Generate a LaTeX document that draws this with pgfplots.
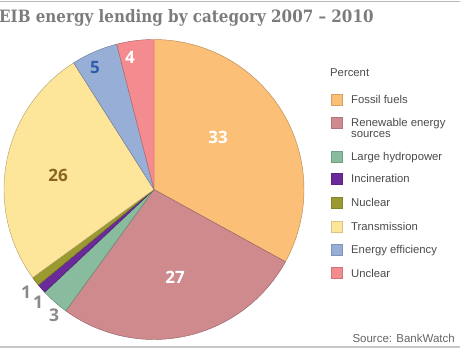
\documentclass[border=0pt]{standalone}
\usepackage{pgfplots}
\pgfplotsset{compat=1.18}
\usepackage{fontspec}
\setmainfont{Liberation Sans}
\newfontfamily\numfont{Open Sans}
\newfontfamily\titlefont{DejaVu Serif}[FakeStretch=0.89]
\definecolor{cFossil}{HTML}{FBBF77}
\definecolor{cRenew}{HTML}{CF8A8E}
\definecolor{cHydro}{HTML}{89BB9F}
\definecolor{cIncin}{HTML}{6A2A9A}
\definecolor{cNuclear}{HTML}{9A9A30}
\definecolor{cTrans}{HTML}{FDE59A}
\definecolor{cEE}{HTML}{97AED6}
\definecolor{cUnclear}{HTML}{F48B8F}
\definecolor{cTitle}{HTML}{7C7C7C}
\definecolor{cLeg}{HTML}{4A4A4A}
\definecolor{cSmall}{HTML}{8A8A8A}
\definecolor{c26}{HTML}{8A6520}
\definecolor{c5}{HTML}{2F5FA8}

\def\startangle{90}
\newcommand\slice[2]{%
  \pgfmathsetmacro\endangle{\startangle-3.6*#1}%
  \edef\doslice{\noexpand\addplot[fill=#2, draw=#2!72!black, line width=0.45pt, domain=\endangle:\startangle, samples=60] ({154+150*cos(x)},{161.5+150*sin(x)}) -- (axis cs:154,161.5) -- cycle;}%
  \doslice
  \xdef\startangle{\endangle}}

\newcommand\legentry[3]{% y-pixel, colour, text
  \fill[#2, draw=#2!85!black, line width=0.3pt] (axis cs:331,{351-#1-5.5}) rectangle (axis cs:342,{351-#1+5.5});
  \node[anchor=base west, inner sep=0pt, text=cLeg, font=\fontsize{11.3}{11.3}\selectfont] at (axis cs:351,{351-#1-4}) {#3};}

\begin{document}
\begin{tikzpicture}[x=1pt,y=1pt]
\path[use as bounding box] (0,0) rectangle (460,351);
\begin{axis}[at={(0,0)}, anchor=south west, scale only axis, width=460pt, height=351pt,
  xmin=0, xmax=460, ymin=0, ymax=351, hide axis, clip=false]
\slice{33}{cFossil}
\slice{27}{cRenew}
\slice{3}{cHydro}
\slice{1}{cIncin}
\slice{1}{cNuclear}
\slice{26}{cTrans}
\slice{5}{cEE}
\slice{4}{cUnclear}

\draw[black!28, line width=1pt] (axis cs:0,349) -- (axis cs:460,349);
\draw[black!22, line width=2pt] (axis cs:0,4) -- (axis cs:460,4);

\node[anchor=base west, inner sep=0pt, text=cTitle, font=\titlefont\bfseries\fontsize{17}{17}\selectfont] at (axis cs:-1,328) {EIB energy lending by category 2007 – 2010};

\node[text=white, font=\numfont\bfseries\fontsize{17}{17}\selectfont] at (axis cs:218,214) {33};
\node[text=white, font=\numfont\bfseries\fontsize{17}{17}\selectfont] at (axis cs:175,74) {27};
\node[text=c26, font=\numfont\bfseries\fontsize{17}{17}\selectfont] at (axis cs:58,176) {26};
\node[text=c5, font=\numfont\bfseries\fontsize{17}{17}\selectfont] at (axis cs:95,283) {5};
\node[text=white, font=\numfont\bfseries\fontsize{17}{17}\selectfont] at (axis cs:130,294) {4};
\node[text=cSmall, font=\numfont\bfseries\fontsize{17.5}{17.5}\selectfont] at (axis cs:26,59) {1};
\node[text=cSmall, font=\numfont\bfseries\fontsize{17.5}{17.5}\selectfont] at (axis cs:38,49) {1};
\node[text=cSmall, font=\numfont\bfseries\fontsize{17.5}{17.5}\selectfont] at (axis cs:54,36) {3};

\node[anchor=base west, inner sep=0pt, text=cLeg, font=\fontsize{11.3}{11.3}\selectfont] at (axis cs:330,274) {Percent};
\legentry{100}{cFossil}{Fossil fuels}
\legentry{123}{cRenew}{Renewable energy}
\node[anchor=base west, inner sep=0pt, text=cLeg, font=\fontsize{11.3}{11.3}\selectfont] at (axis cs:351,{351-134-4}) {sources};
\legentry{157}{cHydro}{Large hydropower}
\legentry{179}{cIncin}{Incineration}
\legentry{203}{cNuclear}{Nuclear}
\legentry{227}{cTrans}{Transmission}
\legentry{250}{cEE}{Energy efficiency}
\legentry{273}{cUnclear}{Unclear}
\node[anchor=base east, inner sep=0pt, text=cLeg!85, font=\fontsize{11.5}{11.5}\selectfont] at (axis cs:455,9) {Source: BankWatch};
\end{axis}
\end{tikzpicture}
\end{document}
